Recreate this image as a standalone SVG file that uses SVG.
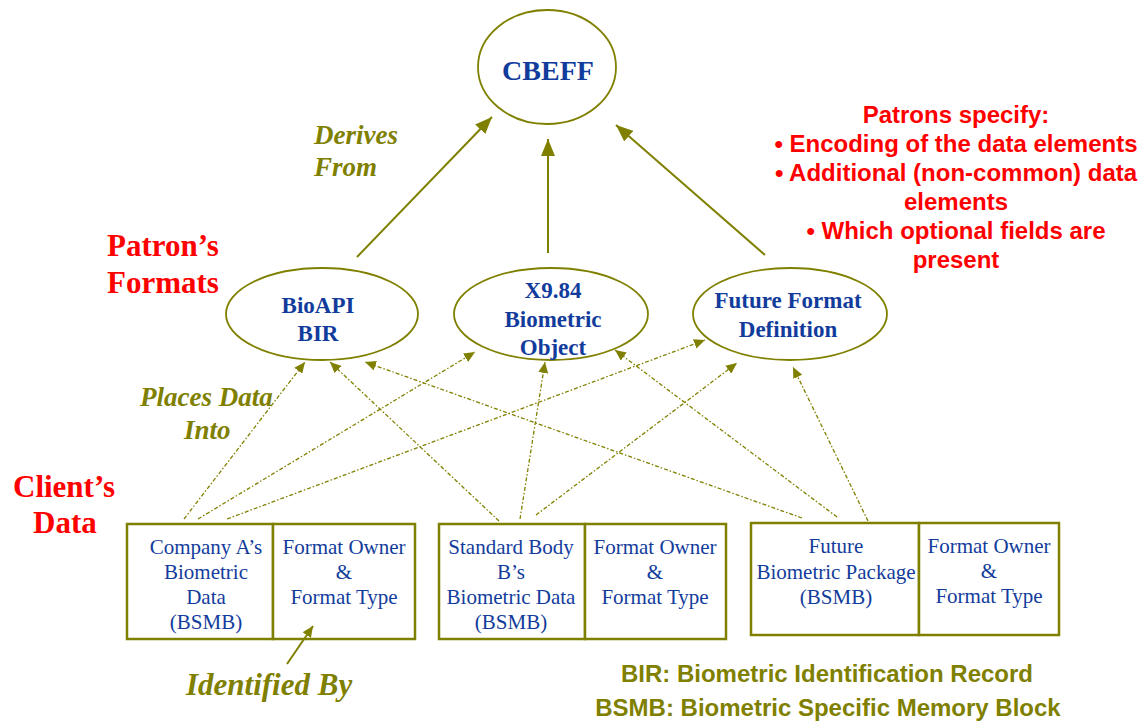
<svg xmlns="http://www.w3.org/2000/svg" width="1142" height="723" viewBox="0 0 1142 723">
<defs>
<marker id="bigArrow" markerUnits="userSpaceOnUse" markerWidth="18" markerHeight="14" refX="17" refY="7" orient="auto">
<path d="M0,0 L17,7 L0,14 Z" fill="#808000"/>
</marker>
<marker id="smallArrow" markerUnits="userSpaceOnUse" markerWidth="12" markerHeight="10" refX="11" refY="5" orient="auto">
<path d="M0,0 L11,5 L0,10 Z" fill="#808000"/>
</marker>
</defs>
<style>
.node{fill:#ffffff;stroke:#808000;stroke-width:1.8}
.box{fill:#ffffff;stroke:#808000;stroke-width:2.5}
.nodeText{font-family:"Liberation Serif",serif;font-weight:bold;fill:#123c9c;text-anchor:middle}
.boxText{font-family:"Liberation Serif",serif;font-size:21px;fill:#123c9c;text-anchor:middle}
.solid{stroke:#808000;stroke-width:2;fill:none}
.dash{stroke:#808000;stroke-width:1.3;fill:none;stroke-dasharray:4 2 1.5 2}
.olive{font-family:"Liberation Serif",serif;font-weight:bold;font-style:italic;fill:#808000}
.red{font-family:"Liberation Serif",serif;font-weight:bold;fill:#ff0000;font-size:31px}
.redSans{font-family:"Liberation Sans",sans-serif;font-weight:bold;fill:#ff0000;font-size:24px;text-anchor:middle}
.legend{font-family:"Liberation Sans",sans-serif;font-weight:bold;fill:#808000;font-size:24px;text-anchor:middle}
</style>

<g id="cbeff">
<ellipse class="node" cx="547" cy="67" rx="69" ry="57"/>
<text class="nodeText" x="548" y="80" font-size="28">CBEFF</text>
</g>

<g id="bioapi">
<ellipse class="node" cx="322" cy="314" rx="96" ry="46"/>
<text class="nodeText" x="318" y="313" font-size="23">BioAPI</text>
<text class="nodeText" x="318" y="341" font-size="23">BIR</text>
</g>

<g id="x984">
<ellipse class="node" cx="551" cy="314" rx="97" ry="46"/>
<text class="nodeText" x="553" y="298" font-size="23">X9.84</text>
<text class="nodeText" x="553" y="327" font-size="23">Biometric</text>
<text class="nodeText" x="553" y="355" font-size="23">Object</text>
</g>

<g id="future">
<ellipse class="node" cx="790" cy="314" rx="97" ry="46"/>
<text class="nodeText" x="788" y="308" font-size="23">Future Format</text>
<text class="nodeText" x="788" y="337" font-size="23">Definition</text>
</g>

<g id="boxA">
<rect class="box" x="127" y="524" width="146" height="115"/>
<rect class="box" x="273" y="524" width="142" height="115"/>
<text class="boxText" x="206" y="554">Company A’s</text>
<text class="boxText" x="206" y="579">Biometric</text>
<text class="boxText" x="206" y="604">Data</text>
<text class="boxText" x="206" y="629">(BSMB)</text>
<text class="boxText" x="344" y="554">Format Owner</text>
<text class="boxText" x="344" y="579">&amp;</text>
<text class="boxText" x="344" y="604">Format Type</text>
</g>

<g id="boxB">
<rect class="box" x="439" y="524" width="146" height="115"/>
<rect class="box" x="585" y="524" width="141" height="115"/>
<text class="boxText" x="511" y="554">Standard Body</text>
<text class="boxText" x="511" y="579">B’s</text>
<text class="boxText" x="511" y="604">Biometric Data</text>
<text class="boxText" x="511" y="629">(BSMB)</text>
<text class="boxText" x="655" y="554">Format Owner</text>
<text class="boxText" x="655" y="579">&amp;</text>
<text class="boxText" x="655" y="604">Format Type</text>
</g>

<g id="boxC">
<rect class="box" x="751" y="523" width="168" height="112"/>
<rect class="box" x="919" y="523" width="140" height="112"/>
<text class="boxText" x="836" y="553">Future</text>
<text class="boxText" x="836" y="579">Biometric Package</text>
<text class="boxText" x="836" y="604">(BSMB)</text>
<text class="boxText" x="989" y="553">Format Owner</text>
<text class="boxText" x="989" y="578">&amp;</text>
<text class="boxText" x="989" y="603">Format Type</text>
</g>

<g id="connectors">
<line class="solid" x1="357" y1="257" x2="492" y2="117" marker-end="url(#bigArrow)"/>
<line class="solid" x1="548" y1="253" x2="548" y2="139" marker-end="url(#bigArrow)"/>
<line class="solid" x1="765" y1="255" x2="616" y2="125" marker-end="url(#bigArrow)"/>
<line class="dash" x1="184" y1="519" x2="305" y2="362" marker-end="url(#smallArrow)"/>
<line class="dash" x1="198" y1="519" x2="475" y2="352" marker-end="url(#smallArrow)"/>
<line class="dash" x1="227" y1="519" x2="705" y2="340" marker-end="url(#smallArrow)"/>
<line class="dash" x1="499" y1="521" x2="330" y2="362" marker-end="url(#smallArrow)"/>
<line class="dash" x1="520" y1="519" x2="545" y2="362" marker-end="url(#smallArrow)"/>
<line class="dash" x1="536" y1="515" x2="737" y2="363" marker-end="url(#smallArrow)"/>
<line class="dash" x1="802" y1="518" x2="365" y2="362" marker-end="url(#smallArrow)"/>
<line class="dash" x1="837" y1="517" x2="615" y2="350" marker-end="url(#smallArrow)"/>
<line class="dash" x1="868" y1="521" x2="793" y2="367" marker-end="url(#smallArrow)"/>
<line class="solid" x1="287" y1="664" x2="313" y2="626" stroke-width="1.5" marker-end="url(#smallArrow)"/>
</g>

<g id="labels">
<text class="olive" x="314" y="144" font-size="27">Derives</text>
<text class="olive" x="314" y="176" font-size="27">From</text>
<text class="olive" x="140" y="406" font-size="27">Places Data</text>
<text class="olive" x="184" y="439" font-size="27">Into</text>
<text class="olive" x="186" y="695" font-size="31">Identified By</text>
<text class="red" x="107" y="256">Patron’s</text>
<text class="red" x="107" y="293">Formats</text>
<text class="red" x="13" y="497">Client’s</text>
<text class="red" x="33" y="533">Data</text>
<text class="redSans" x="956" y="123">Patrons specify:</text>
<text class="redSans" x="956" y="152">• Encoding of the data elements</text>
<text class="redSans" x="956" y="181">• Additional (non-common) data</text>
<text class="redSans" x="956" y="210">elements</text>
<text class="redSans" x="956" y="239">• Which optional fields are</text>
<text class="redSans" x="956" y="268">present</text>
<text class="legend" x="827" y="682">BIR: Biometric Identification Record</text>
<text class="legend" x="828" y="716">BSMB: Biometric Specific Memory Block</text>
</g>
</svg>
